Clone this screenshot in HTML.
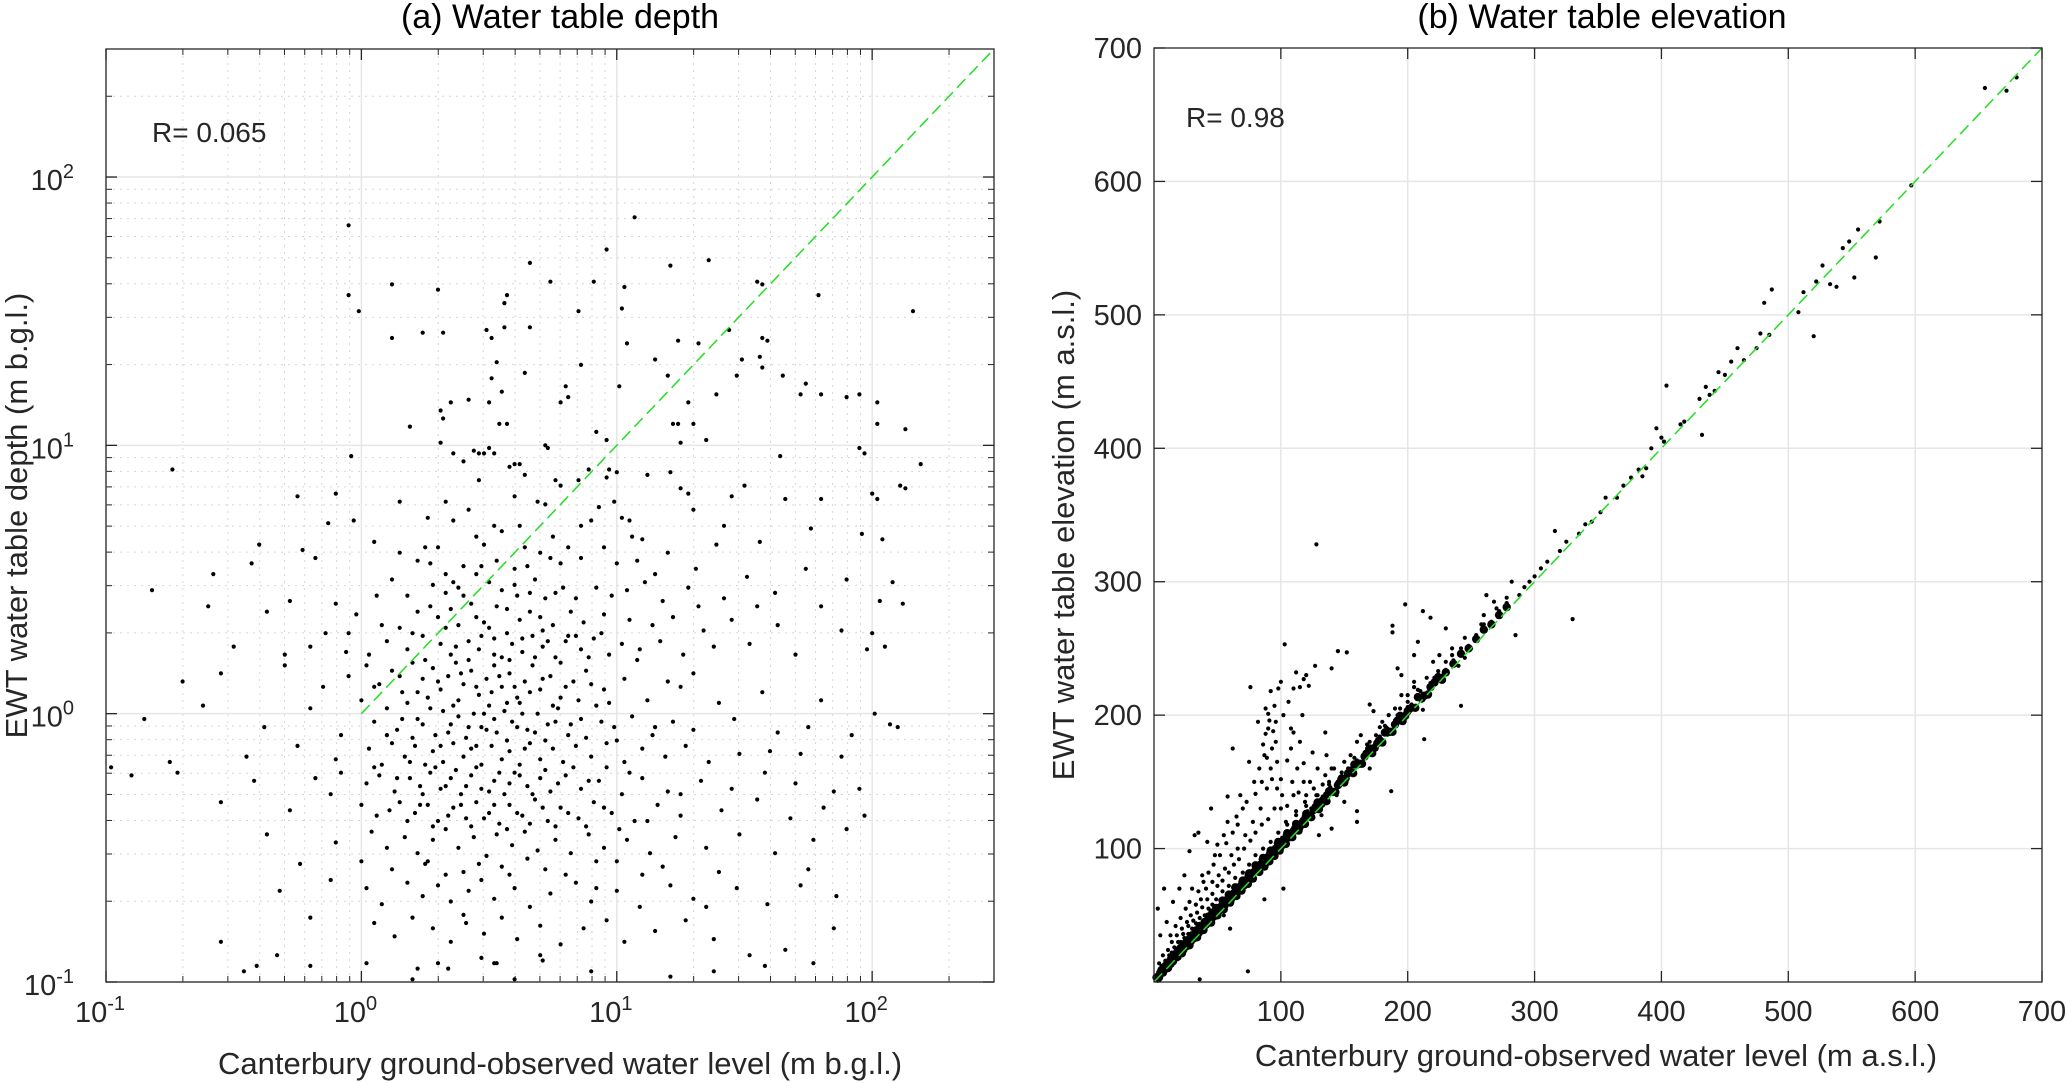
<!DOCTYPE html>
<html><head><meta charset="utf-8">
<style>
html,body{margin:0;padding:0;background:#fff;}
svg{display:block;font-family:"Liberation Sans",Arial,sans-serif;}
</style></head>
<body>
<svg id="fig" width="2067" height="1083" viewBox="0 0 2067 1083" xmlns="http://www.w3.org/2000/svg">
<rect width="2067" height="1083" fill="#fff"/>
<g id="panelA"></g>
<g id="panelB"></g>
</svg>
<script>
// ---------- Panel (a) data: log10 of depth values [observed, EWT] ----------
const depthLogTicks = [-1, 0, 1, 2];
const depthTickLabels = ["10", "10", "10", "10"];
const depthTickExps = ["-1", "0", "1", "2"];
const depthRLabel = "R= 0.065";
const depthPointsLog = [
[-0.05,1.82],[1.07,1.85],[0.96,1.73],[0.66,1.68],[1.36,1.69],[1.21,1.67],[0.74,1.61],[0.91,1.61],[1.03,1.59],[0.30,1.58],[0.12,1.60],[1.55,1.61],[1.57,1.60],[1.79,1.56],[-0.05,1.56],[0.57,1.56],[0.56,1.53],[-0.01,1.50],[0.85,1.50],[1.02,1.51],[2.16,1.50],
[0.56,1.44],[0.66,1.44],[0.12,1.40],[0.24,1.42],[0.32,1.42],[0.49,1.43],[0.51,1.40],[1.44,1.43],[1.57,1.40],[1.59,1.39],[1.04,1.38],[1.24,1.39],[1.32,1.38],[1.15,1.32],[1.49,1.32],[1.56,1.33],[1.57,1.29],[0.86,1.30],[0.53,1.31],[1.20,1.26],[1.65,1.26],[1.47,1.26],[0.64,1.27],[0.51,1.25],[1.74,1.23],[1.01,1.22],[0.80,1.22],[0.81,1.18],[0.78,1.16],[0.55,1.20],[0.50,1.16],[0.42,1.17],[0.35,1.16],
[1.80,1.19],[1.72,1.19],[1.39,1.19],[1.90,1.18],[1.95,1.19],[2.02,1.16],[1.28,1.16],[2.02,1.08],[2.13,1.06],[0.31,1.13],[0.19,1.07],[0.32,1.10],[0.54,1.08],[0.57,1.08],[1.22,1.08],[1.24,1.08],[1.30,1.08],[1.35,1.02],[1.25,1.01],[0.92,1.05],[0.96,1.02],[0.72,1.00],[0.73,0.99],[0.44,0.98],[0.46,0.97],[0.48,0.97],[0.50,0.99],[0.52,0.97],[0.36,0.97],[0.31,1.01],[1.97,0.97],[1.95,0.99],[1.64,0.96],
[-0.04,0.96],[-0.74,0.91],[1.21,0.90],[0.89,0.91],[0.97,0.91],[1.00,0.90],[1.12,0.89],[2.11,0.85],[2.19,0.93],[2.13,0.84],[0.85,0.87],[0.58,0.92],[0.60,0.93],[0.62,0.93],[0.64,0.89],[0.40,0.94],[0.46,0.87],[0.76,0.87],[0.78,0.85],[0.96,0.88],[1.25,0.84],[1.28,0.82],[1.45,0.81],[1.66,0.80],[1.50,0.85],[-0.10,0.82],[0.60,0.81],[0.69,0.79],[0.72,0.78],[0.93,0.77],[0.99,0.79],[1.30,0.76],[1.02,0.73],[1.05,0.72],[0.15,0.79],[0.26,0.73],[0.33,0.79],[0.36,0.72],[0.42,0.76],[0.52,0.70],[0.55,0.68],[0.86,0.70],[0.90,0.72],[1.42,0.70],[1.76,0.69],[1.80,0.80],[2.00,0.82],[2.02,0.80],[-0.25,0.81],[-0.13,0.71],[-0.03,0.72],[0.64,0.62],[0.70,0.60],[0.81,0.62],[1.10,0.65],[1.06,0.66],[1.39,0.63],[1.56,0.64],[1.96,0.67],[2.04,0.65],[0.25,0.62],[0.05,0.64],[0.48,0.63],[-0.23,0.61],
[0.22,0.57],[0.27,0.56],[0.40,0.55],[0.45,0.52],[0.47,0.55],[0.53,0.57],[0.60,0.54],[0.65,0.55],[0.74,0.58],[0.78,0.56],[0.86,0.58],[1.00,0.56],[1.08,0.57],[1.20,0.60],[1.31,0.54],[1.51,0.51],[1.74,0.54],[1.90,0.50],[2.08,0.49],[2.12,0.41],[-0.40,0.63],[-0.18,0.58],[-0.43,0.56],[-0.58,0.52],[-0.82,0.46],[-0.28,0.42],[-0.10,0.41],[-0.02,0.37],[0.06,0.44],[0.12,0.50],[0.18,0.44],[0.28,0.48],[0.33,0.45],[0.36,0.49],[0.40,0.44],[0.50,0.49],[0.55,0.46],[0.60,0.48],[0.66,0.45],[0.68,0.50],[0.72,0.43],[0.79,0.47],[0.84,0.43],[0.92,0.47],[0.98,0.44],[1.04,0.46],[1.11,0.49],[1.28,0.47],[1.18,0.42],[1.42,0.43],[1.55,0.40],[1.62,0.45],[1.80,0.40],[2.03,0.42],[-0.60,0.40],[-0.37,0.38],[-0.14,0.30],[0.08,0.33],[0.15,0.32],[0.22,0.38],[0.30,0.36],[0.35,0.39],[0.38,0.33],[0.45,0.36],[0.50,0.32],[0.57,0.39],[0.62,0.35],[0.70,0.36],[0.75,0.33],[0.82,0.38],[0.87,0.34],[0.95,0.37],[1.05,0.35],[1.14,0.33],[1.22,0.36],[1.34,0.31],[1.45,0.35],[1.63,0.33],[1.88,0.31],[2.00,0.30],[-0.50,0.25],[-0.30,0.22],[-0.20,0.25],[-0.06,0.23],[0.03,0.22],[0.10,0.27],[0.18,0.24],[0.24,0.29],[0.31,0.26],[0.35,0.22],[0.42,0.27],[0.46,0.24],[0.52,0.28],[0.55,0.21],[0.59,0.26],[0.63,0.23],[0.67,0.29],[0.71,0.25],[0.76,0.21],[0.80,0.27],[0.86,0.24],[0.91,0.28],[0.97,0.22],[1.02,0.26],[1.09,0.24],[1.17,0.27],[1.26,0.22],[1.38,0.25],[1.52,0.26],[1.70,0.22],[1.98,0.24],[2.05,0.25],
[-0.70,0.12],[-0.55,0.15],[-0.30,0.18],[-0.15,0.10],[-0.05,0.14],[0.02,0.18],[0.07,0.11],[0.12,0.16],[0.16,0.08],[0.20,0.19],[0.24,0.13],[0.28,0.17],[0.31,0.09],[0.34,0.14],[0.37,0.19],[0.40,0.11],[0.43,0.16],[0.46,0.07],[0.49,0.13],[0.52,0.18],[0.55,0.10],[0.58,0.15],[0.61,0.06],[0.64,0.12],[0.67,0.18],[0.70,0.09],[0.74,0.14],[0.78,0.06],[0.83,0.12],[0.88,0.16],[0.95,0.09],[1.03,0.13],[1.12,0.05],[1.25,0.10],[1.40,0.04],[1.57,0.08],[1.80,0.05],[2.01,0.00],[2.07,-0.04],[2.10,-0.05],[-0.85,-0.02],[-0.62,0.03],[-0.38,-0.05],[-0.20,0.02],[-0.08,-0.08],[0.00,0.05],[0.05,-0.03],[0.10,0.02],[0.14,-0.06],[0.18,0.04],[0.22,-0.02],[0.26,0.06],[0.29,-0.08],[0.32,0.01],[0.35,-0.04],[0.38,0.05],[0.41,-0.09],[0.44,0.00],[0.47,-0.05],[0.50,0.03],[0.53,-0.07],[0.56,0.01],[0.59,-0.03],[0.62,0.04],[0.65,-0.06],[0.69,0.00],[0.73,-0.04],[0.77,0.02],[0.81,-0.08],[0.86,-0.02],[0.92,0.03],[0.99,-0.05],[1.06,-0.01],[1.14,-0.08],[1.22,-0.03],[1.30,-0.06],[1.46,-0.02],[1.63,-0.07],[1.75,-0.05],[1.92,-0.08],[-0.98,-0.20],[-0.75,-0.18],[-0.45,-0.16],[-0.25,-0.12],[-0.10,-0.17],[0.03,-0.13],[0.08,-0.19],[0.12,-0.11],[0.17,-0.16],[0.21,-0.12],[0.25,-0.19],[0.28,-0.14],[0.32,-0.18],[0.36,-0.11],[0.40,-0.16],[0.43,-0.13],[0.47,-0.19],[0.51,-0.12],[0.55,-0.17],[0.58,-0.14],[0.62,-0.19],[0.66,-0.11],[0.70,-0.17],[0.75,-0.13],[0.79,-0.18],[0.84,-0.12],[0.90,-0.16],[0.96,-0.11],[1.03,-0.18],[1.10,-0.13],[1.19,-0.16],[1.27,-0.12],[1.36,-0.18],[1.48,-0.15],[1.60,-0.14],[1.72,-0.15],[1.88,-0.16],[1.95,-0.28],
[-0.90,-0.23],[-0.72,-0.22],[-0.42,-0.25],[-0.18,-0.24],[-0.08,-0.22],[0.02,-0.26],[0.07,-0.23],[0.13,-0.29],[0.19,-0.24],[0.23,-0.27],[0.27,-0.22],[0.31,-0.28],[0.35,-0.24],[0.39,-0.30],[0.43,-0.23],[0.47,-0.28],[0.52,-0.25],[0.56,-0.30],[0.60,-0.22],[0.65,-0.27],[0.70,-0.24],[0.74,-0.29],[0.80,-0.23],[0.86,-0.28],[0.93,-0.25],[1.02,-0.30],[1.10,-0.24],[1.20,-0.29],[1.33,-0.25],[1.45,-0.28],[1.58,-0.22],[1.70,-0.26],[1.85,-0.29],[-0.55,-0.33],[-0.28,-0.36],[0.00,-0.34],[0.06,-0.38],[0.15,-0.33],[0.21,-0.37],[0.26,-0.34],[0.30,-0.40],[0.36,-0.35],[0.41,-0.39],[0.45,-0.33],[0.50,-0.37],[0.54,-0.41],[0.58,-0.34],[0.63,-0.38],[0.68,-0.32],[0.73,-0.40],[0.78,-0.35],[0.85,-0.39],[0.91,-0.33],[0.98,-0.37],[1.07,-0.40],[1.16,-0.34],[1.25,-0.38],[1.41,-0.36],[1.55,-0.32],[1.68,-0.39],[1.81,-0.35],[1.97,-0.38],[-0.37,-0.45],[-0.10,-0.48],[0.04,-0.44],[0.10,-0.50],[0.17,-0.46],[0.22,-0.52],[0.28,-0.47],[0.33,-0.43],[0.38,-0.50],[0.44,-0.46],[0.49,-0.53],[0.53,-0.45],[0.59,-0.49],[0.64,-0.44],[0.69,-0.51],[0.76,-0.47],[0.82,-0.52],[0.89,-0.45],[0.95,-0.50],[1.04,-0.47],[1.13,-0.52],[1.23,-0.46],[1.35,-0.50],[1.48,-0.45],[1.62,-0.52],[1.77,-0.47],[1.90,-0.43],[-0.24,-0.56],[0.12,-0.58],[0.25,-0.56],[0.40,-0.59],[0.55,-0.57],[0.72,-0.58],[0.92,-0.55],[1.18,-0.57],[1.40,-0.59],[1.75,-0.58],
[-0.32,-0.66],[-0.12,-0.62],[0.02,-0.65],[0.08,-0.71],[0.18,-0.63],[0.24,-0.68],[0.30,-0.64],[0.35,-0.70],[0.42,-0.66],[0.47,-0.62],[0.52,-0.69],[0.60,-0.65],[0.66,-0.72],[0.74,-0.67],[0.84,-0.63],[0.90,-0.70],[1.00,-0.66],[1.09,-0.72],[1.21,-0.64],[1.30,-0.69],[1.47,-0.65],[1.59,-0.71],[1.72,-0.64],[1.86,-0.68],[-0.55,-0.85],[-0.33,-0.90],[-0.20,-0.76],[0.05,-0.78],[0.13,-0.83],[0.20,-0.76],[0.28,-0.80],[0.35,-0.85],[0.41,-0.78],[0.48,-0.82],[0.55,-0.76],[0.61,-0.84],[0.70,-0.79],[0.78,-0.86],[0.87,-0.80],[0.96,-0.77],[1.03,-0.85],[1.15,-0.81],[1.27,-0.77],[1.38,-0.84],[1.52,-0.90],[1.66,-0.88],[1.85,-0.80],[-0.41,-0.94],[-0.46,-0.96],[-0.20,-0.94],[0.02,-0.93],[0.22,-0.95],[0.30,-0.93],[0.34,-0.95],[0.47,-0.91],[0.52,-0.93],[0.53,-0.93],[0.71,-0.92],[0.90,-0.96],[1.21,-0.98],[1.38,-0.96],[1.58,-0.94],[1.77,-0.93],[0.20,-0.99],[0.60,-0.99]
];
const depthPointsLogCore = [
[0.33,0.52],[0.38,0.47],[0.43,0.41],[0.48,0.34],[0.53,0.40],[0.57,0.30],[0.61,0.44],[0.66,0.38],[0.71,0.31],[0.76,0.45],[0.81,0.29],[0.27,0.40],[0.20,0.30],[0.25,0.20],[0.33,0.32],[0.37,0.25],[0.42,0.20],[0.47,0.29],[0.52,0.22],[0.58,0.20],[0.63,0.28],[0.68,0.21],[0.73,0.27],[0.78,0.19],[0.84,0.29],[0.89,0.21],[0.94,0.30],[0.15,0.14],[0.22,0.08],[0.27,0.02],[0.30,0.12],[0.36,0.03],[0.39,0.15],[0.45,0.10],[0.48,0.00],[0.51,0.08],[0.54,0.14],[0.57,0.04],[0.60,0.10],[0.63,0.00],[0.66,0.08],[0.71,0.13],[0.75,0.03],[0.80,0.10],[0.85,0.05],[0.90,0.11],[0.97,0.04],[0.10,-0.08],[0.16,-0.02],[0.20,-0.09],[0.24,-0.04],[0.31,-0.12],[0.34,-0.07],[0.38,-0.01],[0.42,-0.05],[0.45,-0.12],[0.49,-0.06],[0.52,-0.02],[0.57,-0.10],[0.61,-0.05],[0.64,-0.13],[0.68,-0.07],[0.72,-0.10],[0.76,-0.03],[0.82,-0.04],[0.88,-0.09],[0.94,-0.03],[1.00,-0.10],[0.05,-0.20],[0.14,-0.24],[0.19,-0.18],[0.24,-0.30],[0.29,-0.20],[0.33,-0.27],[0.37,-0.21],[0.41,-0.27],[0.45,-0.20],[0.50,-0.29],[0.54,-0.22],[0.58,-0.26],[0.62,-0.23],[0.67,-0.30],[0.72,-0.21],[0.77,-0.26],[0.83,-0.20],[0.89,-0.25],[0.96,-0.20],[1.05,-0.22],[0.11,-0.36],[0.18,-0.40],[0.23,-0.34],[0.28,-0.42],[0.34,-0.38],[0.39,-0.34],[0.43,-0.42],[0.48,-0.39],[0.52,-0.34],[0.57,-0.43],[0.61,-0.37],[0.66,-0.41],[0.71,-0.35],[0.76,-0.42],[0.81,-0.37],[0.88,-0.42],[0.95,-0.35],[1.01,-0.43],[0.26,-0.55],[0.33,-0.60],[0.46,-0.56],[0.58,-0.60],[0.65,-0.54],[0.80,-0.60],[1.00,-0.55],[1.10,-0.60],[0.15,0.60],[0.30,0.62],[0.45,0.66],[0.62,0.70],[0.75,0.66],[0.95,0.62],[1.15,0.52],[1.20,0.12],[1.25,-0.30],[1.32,0.40],[1.08,0.20],[1.15,-0.05],[0.05,0.10],[-0.05,0.30],[-0.12,-0.30],[0.00,-0.55],[1.30,0.15],[1.12,-0.40],[0.92,-0.65],[0.40,-0.75],[0.70,-0.90],[1.35,-0.72]
];

// ---------- Panel (b) data: elevation [observed, EWT] in m ----------
const elevTicks = [100, 200, 300, 400, 500, 600, 700];
const elevRLabel = "R= 0.98";
const elevPoints = [
[655,670],[672,668],[680,678],[597,597],[572,570],[569,543],[555,564],[548,555],[543,550],[552,528],[520,484],[508,502],[512,517],[522,525],[527,537],[533,523],[538,521],[481,509],[487,519],[485,485],[475,475],[478,486],[465,466],[460,475],[455,465],[450,455],[445,457],[442,443],[438,440],[435,446],[432,410],[430,437],[418,420],[415,418],[404,447],[402,405],[400,408],[396,415],[392,400],[388,385],[385,379],[382,384],[376,378],[370,372],[365,363],[356,363],[352,352],[345,345],[340,343],[335,336],[330,272],[325,330],[320,323],[316,338],[310,315],[305,310],[300,304],[296,300],[292,296],[288,290],[282,300],[278,288],[270,280],[262,290],[285,260],[258,268],[255,257],[250,250],[245,243],[240,237],[235,245],[230,265],[242,207],[228,230],[222,225],[218,273],[212,278],[215,228],[205,221],[200,210],[198,283],[188,267],[188,262],[192,235],[195,230],[205,245],[208,255],[210,218],[212,204],[213,182],[187,143],[183,191],[178,191],[173,203],[170,208],[165,170],[160,120],[160,128],[152,247],[145,248],[140,235],[135,187],[128,328],[127,237],[122,222],[120,230],[118,227],[115,221],[112,232],[110,220],[106,210],[103,253],[100,225],[98,220],[95,207],[92,218],[90,201],[88,186],[87,170],[92,160],[96,180],[100,152],[105,166],[110,187],[118,164],[125,172],[133,148],[140,160],[85,150],[80,141],[76,221],[70,130],[65,124],[62,175],[58,139],[55,110],[50,103],[45,130],[42,105],[35,112],[32,110],[28,98],[24,80],[20,70],[15,60],[10,45],[8,70],[3,55],[5,35],[75,165],[82,195],[96,195],[108,190],[115,180],[74,8],[36,2],[20,18],[55,50],[60,40],[102,70],[87,62],[130,110],[140,115],[150,135],[170,160],
[90,190],[93,175],[97,165],[102,200],[108,175],[113,160],[117,200],[123,150],[129,160],[136,170],[144,140],[89,145],[84,130],[78,120],[72,110],[66,100],[61,95],[56,85],[51,80],[46,75],[41,70],[37,62],[33,58],[29,50],[26,45],[22,40],[18,35],[14,30],[11,24],[7,20],[4,14],[68,140],[58,120],[48,95],[38,80],[30,70],[100,130],[110,140],[120,140],[135,155],[150,165],[160,180],[175,185],[185,200],[195,215],[205,225],[220,240],[230,240],
[88,205],[91,196],[94,188],[86,178],[89,168],[93,152],[97,145],[101,140],[105,132],[109,150],[114,142],[119,135],[124,130],[128,140],[132,125],[95,130],[90,122],[85,118],[80,112],[76,106],[71,100],[67,92],[63,88],[59,82],[54,76],[50,72],[46,66],[42,62],[38,56],[34,52],[31,46],[27,42],[23,36],[19,30],[16,26],[12,20],[9,16],[6,10],[104,120],[112,128],[118,150],[126,145],[138,150],[142,160],[148,150],[155,170],[163,185],[168,178],[180,195],[190,205],[200,215],[225,245],[235,250],[245,258],[260,275],[268,285],[83,160],[79,150],[73,135],[66,118],[62,112],[57,104],[52,95],[47,88],[43,82],[39,75],[35,68],[28,60],[25,55],[21,48],[17,42],[13,35]
];
const elevBand = [
[2,5],[4,3],[5,9],[6,12],[8,10],[9,15],[10,13],[12,18],[13,14],[14,22],[16,20],[17,25],[18,19],[20,26],[21,30],[23,25],[24,33],[26,30],[27,36],[29,32],[30,40],[32,36],[33,44],[35,38],[36,48],[38,42],[40,50],[41,45],[43,55],[44,48],[46,58],[48,52],[49,62],[51,55],[53,60],[54,68],[56,60],[58,66],[59,72],[61,64],[63,70],[64,78],[66,70],[68,75],[70,82],[71,74],[73,80],[75,88],[77,80],[79,86],[80,95],[82,85],[84,92],[86,100],[88,90],[90,97],[92,105],[94,97],[96,104],[98,112],[100,103],[103,110],[105,118],[107,110],[110,116],[112,125],[115,118],[118,124],[120,132],[123,126],[126,132],[129,140],[132,135],[135,141],[138,148],[141,144],[145,150],[148,157],[151,154],[155,160],[158,168],[162,165],[166,172],[170,180],[174,177],[178,184],[182,192],[186,189],[190,196],[194,205],[198,201],[203,208],[208,219],[213,216],[218,224],[224,233],[230,234],[236,241],[242,250],[248,252],[254,260],[260,268],[266,270],[272,278],[278,284],
[3,2],[7,7],[11,10],[15,16],[19,22],[22,21],[25,28],[28,27],[31,34],[34,33],[37,40],[39,39],[42,46],[45,44],[47,51],[50,50],[52,56],[55,54],[57,62],[60,59],[62,66],[65,64],[67,72],[69,68],[72,77],[74,73],[76,82],[78,77],[81,87],[83,82],[85,90],[87,86],[89,95],[91,90],[93,100],[95,94],[97,102],[99,98],[101,108],[104,103],[106,112],[109,108],[111,118],[114,113],[116,121],[119,118],[121,128],[124,123],[127,133],[130,129],[133,139],[136,135],[139,146],[143,142],[146,152],[150,149],[153,160],[157,156],[160,166],[164,163],[168,175],[172,171],[176,182],[180,179],[184,190],[188,187],[192,200],[196,195],[200,206],[206,205],[211,214],[216,215],[221,228],[227,226]
];

const NS = "http://www.w3.org/2000/svg";
function mk(tag, attrs, parent) {
  const e = document.createElementNS(NS, tag);
  for (const k in attrs) e.setAttribute(k, attrs[k]);
  parent.appendChild(e);
  return e;
}
const TXT = "#262626", AX = "#262626", GRID = "#e6e6e6";

// ---------- Panel A ----------
(function () {
  const g = document.getElementById("panelA");
  const L = 106, R = 994, T = 49, B = 982;
  const xmin = -1, xmax = Math.log10(300), ymin = -1, ymax = Math.log10(300);
  const sx = v => L + (v - xmin) / (xmax - xmin) * (R - L);
  const sy = v => B - (v - ymin) / (ymax - ymin) * (B - T);
  const minorG = mk("g", {}, g);
  
  
  for (let d = -1; d <= 2; d++) {
    for (let m = 2; m <= 9; m++) {
      const v = d + Math.log10(m);
      if (v <= xmax) {
        mk("line", {x1: sx(v), x2: sx(v), y1: T, y2: B, stroke: "#d6d6d6", "stroke-width": 1, "stroke-dasharray": "2,5"}, minorG);
        mk("line", {x1: sx(v), x2: sx(v), y1: B, y2: B - 6, stroke: AX, "stroke-width": 1}, minorG);
        mk("line", {x1: sx(v), x2: sx(v), y1: T, y2: T + 6, stroke: AX, "stroke-width": 1}, minorG);
      }
      if (v <= ymax) {
        mk("line", {x1: L, x2: R, y1: sy(v), y2: sy(v), stroke: "#d6d6d6", "stroke-width": 1, "stroke-dasharray": "2,5"}, minorG);
        mk("line", {x1: L, x2: L + 6, y1: sy(v), y2: sy(v), stroke: AX, "stroke-width": 1}, minorG);
        mk("line", {x1: R, x2: R - 6, y1: sy(v), y2: sy(v), stroke: AX, "stroke-width": 1}, minorG);
      }
    }
  }
  depthLogTicks.forEach((t, i) => {
    mk("line", {x1: sx(t), x2: sx(t), y1: T, y2: B, stroke: GRID, "stroke-width": 1.5}, g);
    mk("line", {x1: L, x2: R, y1: sy(t), y2: sy(t), stroke: GRID, "stroke-width": 1.5}, g);
    mk("line", {x1: sx(t), x2: sx(t), y1: B, y2: B - 11, stroke: AX, "stroke-width": 1.3}, g);
    mk("line", {x1: sx(t), x2: sx(t), y1: T, y2: T + 11, stroke: AX, "stroke-width": 1.3}, g);
    mk("line", {x1: L, x2: L + 11, y1: sy(t), y2: sy(t), stroke: AX, "stroke-width": 1.3}, g);
    mk("line", {x1: R, x2: R - 11, y1: sy(t), y2: sy(t), stroke: AX, "stroke-width": 1.3}, g);
    const xl = mk("text", {x: sx(t) - 6, y: B + 40, "text-anchor": "middle", "font-size": 29, fill: TXT}, g);
    
    
    xl.textContent = depthTickLabels[i];
    const xs = mk("tspan", {dy: -12, "font-size": 20}, xl); xs.textContent = depthTickExps[i];
    const yl = mk("text", {x: L - 32, y: sy(t) + 13, "text-anchor": "end", "font-size": 29, fill: TXT}, g);
    
    
    yl.textContent = depthTickLabels[i];
    const ys = mk("tspan", {dy: -12, "font-size": 20}, yl); ys.textContent = depthTickExps[i];
  });
  const pts = mk("g", {fill: "#000"}, g);
  
  
  depthPointsLog.concat(depthPointsLogCore).forEach(p => {
    if (p[1] < ymin) return;
    const c = mk("circle", {cx: sx(p[0]).toFixed(1), cy: sy(p[1]).toFixed(1), r: 2.1}, pts);
    
    
  });
  const ln = mk("line", {x1: sx(0), y1: sy(0), x2: sx(xmax), y2: sy(xmax), stroke: "#22dd22", "stroke-width": 1.5, "stroke-dasharray": "12,6"}, g);
  
  
  const box = mk("rect", {x: L, y: T, width: R - L, height: B - T, fill: "none", stroke: AX, "stroke-width": 1.3}, g);
  
  
  const rt = mk("text", {x: 152, y: 142, "font-size": 28, fill: TXT}, g);
  
  
  rt.textContent = depthRLabel;
  const ti = mk("text", {x: (L + R) / 2 + 10, y: 28, "text-anchor": "middle", "font-size": 34, fill: "#000"}, g);
  
  
  ti.textContent = "(a) Water table depth";
  const xt = mk("text", {x: (L + R) / 2 + 10, y: 1074, "text-anchor": "middle", "font-size": 31, fill: TXT}, g);
  
  
  xt.textContent = "Canterbury ground-observed water level (m b.g.l.)";
  const yt = mk("text", {x: 0, y: 0, "text-anchor": "middle", "font-size": 31, fill: TXT, transform: `translate(27,${(T + B) / 2}) rotate(-90)`}, g);
  
  
  yt.textContent = "EWT water table depth (m b.g.l.)";
})();

// ---------- Panel B ----------
(function () {
  const g = document.getElementById("panelB");
  const L = 1154, R = 2042, T = 48, B = 982;
  const sx = v => L + v / 700 * (R - L);
  const sy = v => B - v / 700 * (B - T);
  elevTicks.forEach(t => {
    if (t < 700) {
      mk("line", {x1: sx(t), x2: sx(t), y1: T, y2: B, stroke: GRID, "stroke-width": 1.5}, g);
      mk("line", {x1: L, x2: R, y1: sy(t), y2: sy(t), stroke: GRID, "stroke-width": 1.5}, g);
    }
    mk("line", {x1: sx(t), x2: sx(t), y1: B, y2: B - 11, stroke: AX, "stroke-width": 1.3}, g);
    mk("line", {x1: sx(t), x2: sx(t), y1: T, y2: T + 11, stroke: AX, "stroke-width": 1.3}, g);
    mk("line", {x1: L, x2: L + 11, y1: sy(t), y2: sy(t), stroke: AX, "stroke-width": 1.3}, g);
    mk("line", {x1: R, x2: R - 11, y1: sy(t), y2: sy(t), stroke: AX, "stroke-width": 1.3}, g);
    const xl = mk("text", {x: sx(t), y: B + 39, "text-anchor": "middle", "font-size": 29, fill: TXT}, g);
    
    
    xl.textContent = t;
    const yl = mk("text", {x: L - 12, y: sy(t) + 10, "text-anchor": "end", "font-size": 29, fill: TXT}, g);
    
    
    yl.textContent = t;
  });
  const band = mk("g", {fill: "#000"}, g);
  
  
  elevBand.forEach(p => {
    const c = mk("circle", {cx: sx(p[0]).toFixed(1), cy: sy((p[0] + p[1]) / 2).toFixed(1), r: 4.2}, band);
    
    
  });
  const pts = mk("g", {fill: "#000"}, g);
  
  
  elevPoints.concat(elevBand).forEach(p => {
    const c = mk("circle", {cx: sx(p[0]).toFixed(1), cy: sy(p[1]).toFixed(1), r: 2.1}, pts);
    
    
  });
  const ln = mk("line", {x1: sx(0), y1: sy(0), x2: sx(700), y2: sy(700), stroke: "#22dd22", "stroke-width": 1.5, "stroke-dasharray": "12,6"}, g);
  
  
  const box = mk("rect", {x: L, y: T, width: R - L, height: B - T, fill: "none", stroke: AX, "stroke-width": 1.3}, g);
  
  
  const rt = mk("text", {x: 1186, y: 127, "font-size": 28, fill: TXT}, g);
  
  
  rt.textContent = elevRLabel;
  const ti = mk("text", {x: (L + R) / 2 + 4, y: 28, "text-anchor": "middle", "font-size": 34, fill: "#000"}, g);
  
  
  ti.textContent = "(b) Water table elevation";
  const xt = mk("text", {x: (L + R) / 2 - 2, y: 1066, "text-anchor": "middle", "font-size": 31, fill: TXT}, g);
  
  
  xt.textContent = "Canterbury ground-observed water level (m a.s.l.)";
  const yt = mk("text", {x: 0, y: 0, "text-anchor": "middle", "font-size": 31, fill: TXT, transform: `translate(1074,${(T + B) / 2 + 20}) rotate(-90)`}, g);
  
  
  yt.textContent = "EWT water table elevation (m a.s.l.)";
})();
</script>
</body></html>
